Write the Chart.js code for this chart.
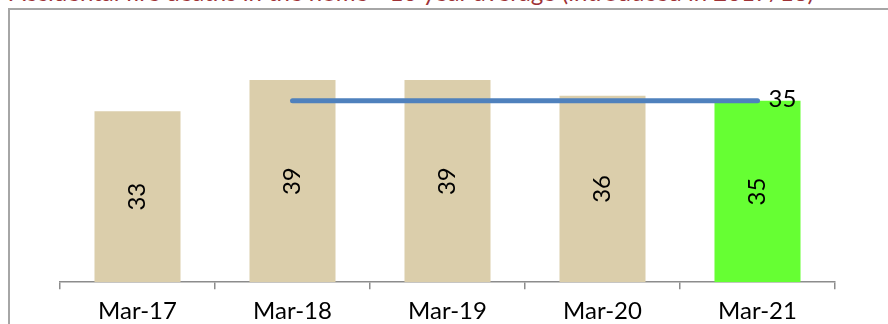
<!DOCTYPE html>
<html>
<head>
<meta charset="utf-8">
<script src="https://cdn.jsdelivr.net/npm/chart.js@4.4.0/dist/chart.umd.min.js"></script>
<style>
  html, body { margin: 0; padding: 0; background: #fff; overflow: hidden; }
  .page { position: relative; width: 888px; height: 324px; overflow: hidden; }
  .frame { position: absolute; left: 8px; top: 8px; width: 880px; height: 316px; border-left: 2px solid #a6a6a6; border-top: 2px solid #a6a6a6; box-sizing: border-box; }
  .title { position: absolute; right: 74px; top: -20px; white-space: nowrap; font: 24px Lato, sans-serif; line-height: 24px; color: #9e3236; }
  .wrap { position: absolute; left: 0; top: 0; width: 888px; height: 339px; }
</style>
</head>
<body>
<div class="page">
  <div class="frame"></div>
  <div class="title">Accidental fire deaths in the home - 10 year average (introduced in 2017/18)</div>
  <div class="wrap"><canvas id="fireChart"></canvas></div>
</div>
<script>
const labels = ['Mar-17', 'Mar-18', 'Mar-19', 'Mar-20', 'Mar-21'];
const deaths = [33, 39, 39, 36, 35];
const tenYearAvg = [null, 35, 35, 35, 35];
const barColors = ['#dbceab', '#dbceab', '#dbceab', '#dbceab', '#66ff33'];

const FONT = 'Lato, sans-serif';

// value labels: rotated inside the bars, plain at the end of the average line
const valueLabels = {
  id: 'valueLabels',
  afterDatasetsDraw(chart) {
    const ctx = chart.ctx;
    ctx.save();
    ctx.fillStyle = '#000';
    ctx.font = '24px ' + FONT;
    chart.data.datasets.forEach((ds, di) => {
      const meta = chart.getDatasetMeta(di);
      if (ds.type === 'bar') {
        meta.data.forEach((bar, i) => {
          const cy = (bar.y + bar.base) / 2;
          ctx.save();
          ctx.translate(bar.x, cy);
          ctx.rotate(-Math.PI / 2);
          ctx.textAlign = 'center';
          ctx.textBaseline = 'middle';
          ctx.fillText(String(ds.data[i]), 0, 0);
          ctx.restore();
        });
      } else {
        const last = ds.data.length - 1;
        const pt = meta.data[last];
        ctx.textAlign = 'left';
        ctx.textBaseline = 'middle';
        ctx.fillText(String(ds.data[last]), pt.x + 11, pt.y - 2);
      }
    });
    ctx.restore();
  }
};

new Chart(document.getElementById('fireChart'), {
  data: {
    labels,
    datasets: [
      {
        type: 'line',
        data: tenYearAvg,
        borderColor: '#4f81bd',
        borderWidth: 5,
        borderCapStyle: 'round',
        pointRadius: 0,
        order: 0
      },
      {
        type: 'bar',
        data: deaths,
        backgroundColor: barColors,
        categoryPercentage: 1,
        barPercentage: 0.555,
        order: 1
      }
    ]
  },
  options: {
    responsive: true,
    maintainAspectRatio: false,
    animation: false,
    layout: { padding: { left: 60, right: 53, top: 49, bottom: 5 } },
    plugins: { legend: { display: false }, tooltip: { enabled: false } },
    scales: {
      x: {
        offset: true,
        grid: { offset: true, drawOnChartArea: false, drawTicks: true, tickLength: 7, color: '#8c8c8c', lineWidth: 1.5 },
        border: { display: true, color: '#8c8c8c', width: 1.5 },
        ticks: { color: '#000', padding: 8, font: { family: FONT, size: 24 } }
      },
      y: { display: false, min: 0, max: 45 }
    }
  },
  plugins: [valueLabels]
});
</script>
</body>
</html>
